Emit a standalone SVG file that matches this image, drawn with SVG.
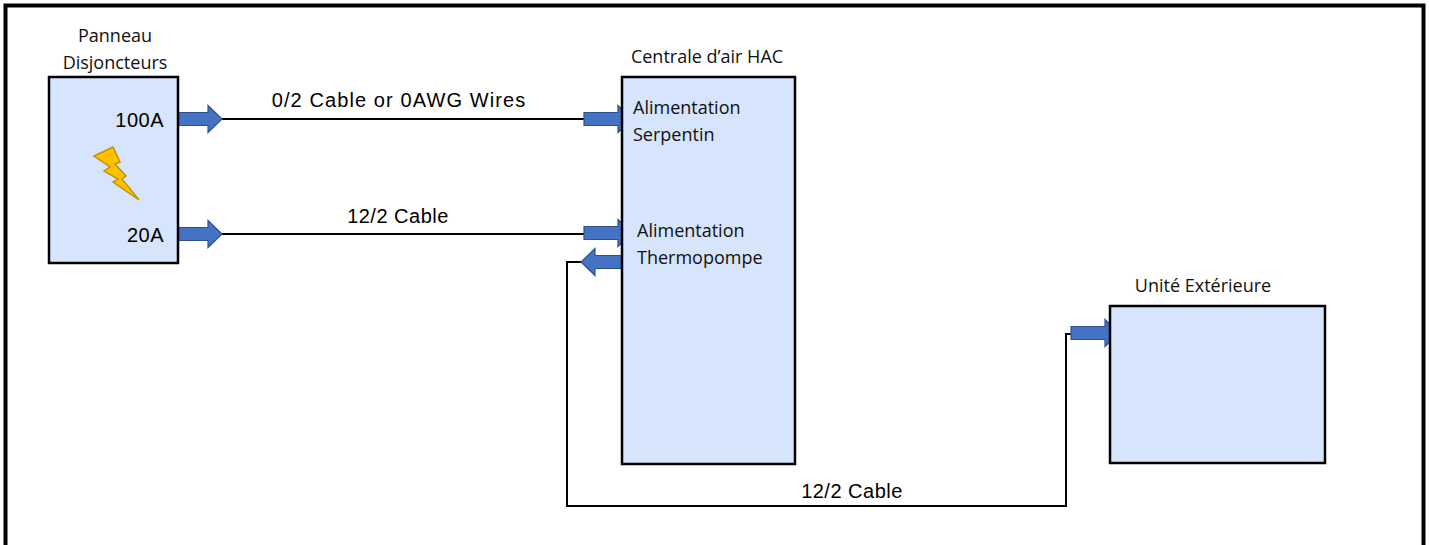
<svg xmlns="http://www.w3.org/2000/svg" width="1429" height="545" viewBox="0 0 1429 545">
<style>
.box{fill:#D6E4FC;stroke:#000;stroke-width:2.5}
.wire{fill:none;stroke:#000;stroke-width:2}
.arr{fill:#4472C4;stroke:#2F528F;stroke-width:1.2}
.lbl{font-family:"Open Sans","Liberation Sans",sans-serif;font-size:18px;fill:#111}
.big{font-family:"Liberation Sans",Arial,sans-serif;font-size:20px;fill:#000;letter-spacing:0.5px}
</style>
<defs>
<path id="ra" class="arr" d="M0,-6.5 H34 V-13.5 L48,0 L34,13.5 V6.5 H0 Z"/>
</defs>
<rect x="5.5" y="5.5" width="1418" height="560" fill="#fff" stroke="#000" stroke-width="4"/>
<g id="connectors">
<line class="wire" x1="222" y1="119" x2="586" y2="119"/>
<line class="wire" x1="222" y1="234" x2="586" y2="234"/>
<polyline class="wire" points="582,262 567,262 567,506 1066,506 1066,334 1072,334"/>
<use href="#ra" x="174" y="119"/>
<use href="#ra" x="174" y="234"/>
<use href="#ra" x="584" y="119"/>
<use href="#ra" x="584" y="233"/>
<use href="#ra" transform="translate(629,262) scale(-1,1)"/>
<use href="#ra" x="1071" y="333"/>
<text class="big" x="399" y="107" text-anchor="middle" style="letter-spacing:1.1px">0/2 Cable or 0AWG Wires</text>
<text class="big" x="398" y="223" text-anchor="middle">12/2 Cable</text>
<text class="big" x="852" y="498" text-anchor="middle">12/2 Cable</text>
</g>
<g id="panneau">
<rect class="box" x="49" y="77" width="129" height="186"/>
<text class="lbl" x="115" y="42" text-anchor="middle">Panneau</text>
<text class="lbl" x="115" y="69" text-anchor="middle">Disjoncteurs</text>
<text class="big" x="164" y="127" text-anchor="end">100A</text>
<text class="big" x="164" y="242" text-anchor="end">20A</text>
<polygon points="94,156 113,147 120,162 115,164 126,176 122,179 139,200 113,182 118,179 104,171 110,167" fill="#FFC000" stroke="#C39400" stroke-width="1.5" stroke-linejoin="miter"/>
</g>
<g id="centrale">
<rect class="box" x="622" y="77" width="173" height="387"/>
<text class="lbl" x="707" y="63" text-anchor="middle">Centrale d’air HAC</text>
<text class="lbl" x="633" y="114">Alimentation</text>
<text class="lbl" x="633" y="141">Serpentin</text>
<text class="lbl" x="637" y="237">Alimentation</text>
<text class="lbl" x="637" y="264">Thermopompe</text>
</g>
<g id="unite">
<rect class="box" x="1110" y="306" width="215" height="157"/>
<text class="lbl" x="1203" y="292" text-anchor="middle">Unité Extérieure</text>
</g>
</svg>
